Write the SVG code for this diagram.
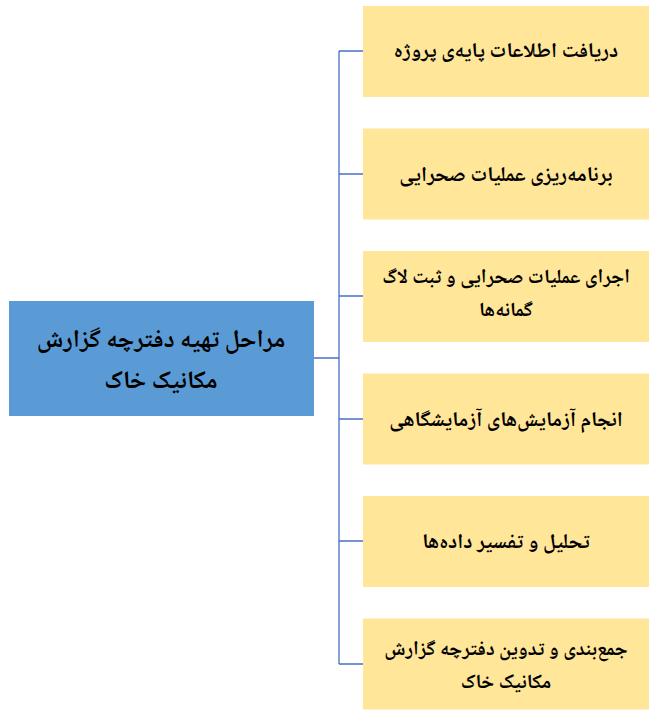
<svg xmlns="http://www.w3.org/2000/svg" width="654" height="715" viewBox="0 0 654 715">
<style>
.bg{fill:#ffffff}
.main{fill:#5B9BD5}
.step{fill:#FFE699}
.conn{stroke:#4472C4;stroke-width:1.3;fill:none}
.t{font-family:"Noto Naskh Arabic","Noto Sans Arabic","DejaVu Sans",sans-serif;font-weight:bold;fill:#000;text-anchor:middle;direction:rtl}
.tm{font-size:25px}
.ts{font-size:21px}
.ts2{font-size:20px}
</style>
<rect class="bg" x="0" y="0" width="654" height="715"/>
<g id="connectors">
<path class="conn" d="M314 358H339M339 51V664M339 51H363M339 174H363M339 296H363M339 419H363M339 541H363M339 664H363"/>
</g>
<g id="main">
<rect class="main" x="9" y="301" width="305" height="115"/>
<text class="t tm" x="161" y="347">مراحل تهیه دفترچه گزارش</text>
<text class="t tm" x="161" y="388">مکانیک خاک</text>
</g>
<g id="step1">
<rect class="step" x="363" y="6" width="286" height="91"/>
<text class="t ts" x="506" y="57">دریافت اطلاعات پایه‌ی پروژه</text>
</g>
<g id="step2">
<rect class="step" x="363" y="128.5" width="286" height="91"/>
<text class="t ts" x="506" y="181">برنامه‌ریزی عملیات صحرایی</text>
</g>
<g id="step3">
<rect class="step" x="363" y="251" width="286" height="91"/>
<text class="t ts2" x="506" y="283">اجرای عملیات صحرایی و ثبت لاگ</text>
<text class="t ts2" x="506" y="316">گمانه‌ها</text>
</g>
<g id="step4">
<rect class="step" x="363" y="373.5" width="286" height="91"/>
<text class="t ts" x="506" y="426">انجام آزمایش‌های آزمایشگاهی</text>
</g>
<g id="step5">
<rect class="step" x="363" y="496" width="286" height="91"/>
<text class="t ts" x="506" y="548">تحلیل و تفسیر داده‌ها</text>
</g>
<g id="step6">
<rect class="step" x="363" y="618.5" width="286" height="91"/>
<text class="t ts2" x="506" y="655">جمع‌بندی و تدوین دفترچه گزارش</text>
<text class="t ts2" x="506" y="688">مکانیک خاک</text>
</g>
</svg>
